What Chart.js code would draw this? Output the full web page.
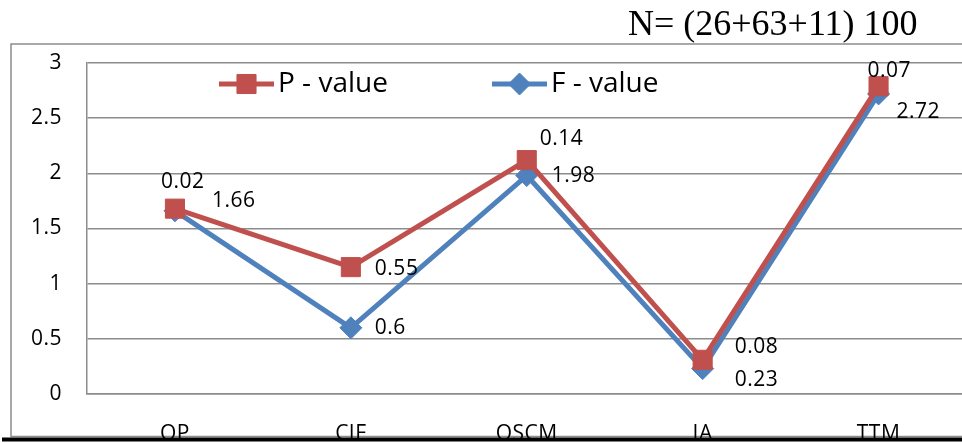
<!DOCTYPE html>
<html>
<head>
<meta charset="utf-8">
<script src="https://cdn.jsdelivr.net/npm/chart.js@4"></script>
<style>
  html, body { margin: 0; padding: 0; background: #fff; overflow: hidden; }
  #wrap { position: absolute; left: 0; top: 0; width: 981px; height: 443px; }
</style>
</head>
<body>
<div id="wrap"><canvas id="c"></canvas></div>
<script>
// ---- data ----
const categories = ['OP', 'CIF', 'OSCM', 'IA', 'TTM'];
const fValue = [1.66, 0.6, 1.98, 0.23, 2.72];
const pValue = [0.02, 0.55, 0.14, 0.08, 0.07];   // stacked on top of F
const yTicks = [0, 0.5, 1, 1.5, 2, 2.5, 3];
const sampleNote = 'N= (26+63+11) 100';
const seriesNames = ['F - value', 'P - value'];

// ---- styling ----
const RED = '#C0504D';
const BLUE = '#4F81BD';
const GRID = '#8c8c8c';
const SANS = '"Open Sans", "Noto Sans", sans-serif';

// per-point label nudges [dx to text left edge, dy to text middle]
const labelNudge = [
  [[37, -10], [24, 0], [25, 0], [32, 11], [18, 18]],      // F
  [[-14, -27], [24, 2], [13, -21], [32, -13], [-11, -15]] // P
];

// legend entries, drawn inside the plot
const legendItems = [
  { ds: 1, x0: 219, x1: 274, y: 84, text: 278 },
  { ds: 0, x0: 492, x1: 547, y: 84, text: 551 }
];

// white page, outer frame and the sample-size note
const framePlugin = {
  id: 'frame',
  beforeDraw(chart) {
    const ctx = chart.ctx;
    ctx.save();
    ctx.fillStyle = '#fff';
    ctx.fillRect(0, 0, chart.width, chart.height);
    ctx.strokeStyle = '#8c8c8c';
    ctx.lineWidth = 1.5;
    ctx.beginPath();
    ctx.moveTo(chart.width + 5, 44);
    ctx.lineTo(11, 44);
    ctx.lineTo(11, 436.5);
    ctx.lineTo(chart.width + 5, 436.5);
    ctx.stroke();
    ctx.fillStyle = '#000';
    ctx.font = '36px "Liberation Serif", "Times New Roman", serif';
    ctx.textAlign = 'left';
    ctx.textBaseline = 'alphabetic';
    ctx.fillText(sampleNote, 628, 35);
    ctx.restore();
    chart.ctx.letterSpacing = '0.5px';
  },
  afterDraw(chart) {
    const ctx = chart.ctx;
    ctx.save();
    ctx.fillStyle = '#000';
    ctx.fillRect(2, 437.5, chart.width, 4);
    ctx.restore();
  }
};

// keep the P line painted above the F line
const layerPlugin = {
  id: 'layer',
  beforeDatasetDraw(chart, args) {
    if (args.index === 1) return false;
  },
  afterDatasetsDraw(chart) {
    const meta = chart.getDatasetMeta(1);
    if (meta && meta.controller) meta.controller.draw();
  }
};

// value labels and legend
const labelPlugin = {
  id: 'labels',
  afterDraw(chart) {
    const ctx = chart.ctx;
    ctx.save();
    ctx.fillStyle = '#000';
    ctx.textAlign = 'left';
    ctx.textBaseline = 'middle';
    ctx.font = '21px ' + SANS;
    ctx.letterSpacing = '0.5px';
    chart.data.datasets.forEach((ds, di) => {
      const meta = chart.getDatasetMeta(di);
      meta.data.forEach((pt, i) => {
        const [dx, dy] = labelNudge[di][i];
        ctx.fillText(String(ds.data[i]), pt.x + dx, pt.y + dy);
      });
    });

    ctx.letterSpacing = '0px';
    ctx.font = '28px ' + SANS;
    legendItems.forEach(item => {
      const ds = chart.data.datasets[item.ds];
      ctx.strokeStyle = ds.borderColor;
      ctx.lineWidth = ds.borderWidth;
      ctx.lineCap = 'butt';
      ctx.beginPath();
      ctx.moveTo(item.x0, item.y);
      ctx.lineTo(item.x1, item.y);
      ctx.stroke();
      ctx.fillStyle = ds.backgroundColor;
      ctx.strokeStyle = ds.backgroundColor;
      ctx.lineWidth = 1;
      Chart.helpers.drawPoint(ctx, {
        pointStyle: ds.pointStyle, radius: ds.pointRadius, rotation: 0, borderWidth: 1
      }, (item.x0 + item.x1) / 2, item.y);
      ctx.fillStyle = '#000';
      ctx.fillText(ds.label, item.text, item.y);
    });
    ctx.restore();
  }
};

new Chart(document.getElementById('c'), {
  type: 'line',
  data: {
    labels: categories,
    datasets: [
      {
        label: seriesNames[0],
        data: fValue,
        borderColor: BLUE,
        backgroundColor: BLUE,
        borderWidth: 5,
        pointStyle: 'rectRot',
        pointRadius: 11,
        pointBorderWidth: 1,
        pointBorderColor: BLUE,
        pointBackgroundColor: BLUE,
        tension: 0,
        borderJoinStyle: 'round'
      },
      {
        label: seriesNames[1],
        data: pValue,
        borderColor: RED,
        backgroundColor: RED,
        borderWidth: 5,
        pointStyle: 'rect',
        pointRadius: 13.5,
        pointBorderWidth: 1,
        pointBorderColor: RED,
        pointBackgroundColor: RED,
        tension: 0,
        borderJoinStyle: 'round'
      }
    ]
  },
  options: {
    responsive: true,
    maintainAspectRatio: false,
    animation: false,
    events: [],
    layout: { padding: { left: 0, top: 63, right: 1, bottom: 0 } },
    plugins: {
      legend: { display: false },
      title: { display: false },
      tooltip: { enabled: false }
    },
    scales: {
      x: {
        type: 'category',
        offset: true,
        grid: { display: false },
        border: { display: true, color: GRID, width: 1.5 },
        ticks: {
          color: '#000',
          padding: 19,
          font: { family: SANS, size: 21 },
          maxRotation: 0,
          autoSkip: false
        },
        afterFit(scale) { scale.height = 49; }
      },
      y: {
        stacked: true,
        min: 0,
        max: 3,
        grid: { color: GRID, lineWidth: 1.5, drawTicks: false },
        border: { display: true, color: GRID, width: 1.5 },
        ticks: {
          color: '#000',
          padding: 25,
          font: { family: SANS, size: 21 },
          callback: v => String(v)
        },
        afterBuildTicks(scale) { scale.ticks = yTicks.map(v => ({ value: v })); },
        afterFit(scale) { scale.width = 87; }
      }
    }
  },
  plugins: [framePlugin, layerPlugin, labelPlugin]
});
</script>
</body>
</html>
